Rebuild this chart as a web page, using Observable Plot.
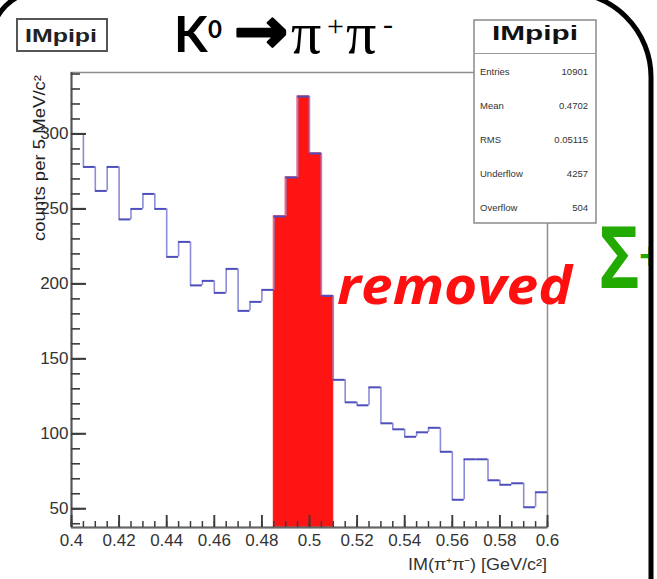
<!DOCTYPE html>
<html>
<head>
<meta charset="utf-8">
<script src="https://cdn.jsdelivr.net/npm/d3@7"></script>
<script src="https://cdn.jsdelivr.net/npm/@observablehq/plot@0.6"></script>
<style>
  html, body { margin: 0; padding: 0; background: #fff; }
  #chart { position: relative; width: 657px; height: 579px; overflow: hidden; }
  #chart svg { display: block; }
</style>
</head>
<body>
<div id="chart"></div>
<script>
// Invariant mass of pi+ pi- pairs, 5 MeV/c^2 bins (lower bin edges, GeV/c^2)
const binLow = [
  0.400, 0.405, 0.410, 0.415, 0.420, 0.425, 0.430, 0.435, 0.440, 0.445,
  0.450, 0.455, 0.460, 0.465, 0.470, 0.475, 0.480, 0.485, 0.490, 0.495,
  0.500, 0.505, 0.510, 0.515, 0.520, 0.525, 0.530, 0.535, 0.540, 0.545,
  0.550, 0.555, 0.560, 0.565, 0.570, 0.575, 0.580, 0.585, 0.590, 0.595
];
const binWidth = 0.005;
const counts = [
  300, 278, 262, 278, 243, 250, 260, 250, 218, 228,
  199, 202, 194, 210, 182, 188, 196, 245, 271, 325,
  287, 192, 136, 121, 119, 131, 107, 103, 98, 101,
  104, 88, 56, 83, 83, 69, 66, 67, 51, 61
];
// K0 window cut out of the sample
const removedRange = [0.485, 0.510];

const xDomain = [0.4, 0.6];
const yDomain = [37.5, 341];
const xTicks = [0.40, 0.42, 0.44, 0.46, 0.48, 0.50, 0.52, 0.54, 0.56, 0.58, 0.60];
const xTickLabels = ["0.4", "0.42", "0.44", "0.46", "0.48", "0.5", "0.52", "0.54", "0.56", "0.58", "0.6"];
const xMinorTicks = binLow.concat([0.6]);
const yTicks = [50, 100, 150, 200, 250, 300];
const yMinorTicks = [40, 50, 60, 70, 80, 90, 100, 110, 120, 130, 140, 150, 160, 170, 180, 190,
  200, 210, 220, 230, 240, 250, 260, 270, 280, 290, 300, 310, 320, 330, 340];

const histName = "IMpipi";
const statsNames = ["Entries", "Mean", "RMS", "Underflow", "Overflow"];
const statsValues = ["10901", "0.4702", "0.05115", "4257", "504"];

const xTitle = "IM(π⁺π⁻) [GeV/c²]";
const yTitle = "counts per 5 MeV/c²";

const bins = binLow.map((x0, i) => ({
  x0,
  x1: x0 + binWidth,
  count: counts[i],
  removed: x0 >= removedRange[0] - 1e-9 && x0 < removedRange[1] - 1e-9
}));
const steps = bins.slice(1).map((b, i) => ({x: b.x0, y1: bins[i].count, y2: b.count}));

const rootFont = "'Liberation Sans', Arial, sans-serif";

const W = 657, H = 579;
const M = {left: 71, right: 110, top: 72, bottom: 52};
// pixels per data unit, used to give the inward ticks a fixed pixel length
const kx = (W - M.left - M.right) / (xDomain[1] - xDomain[0]);
const ky = (H - M.top - M.bottom) / (yDomain[1] - yDomain[0]);
const tickColor = "#3c3c3c";
const yTickRules = (values, len, sw) =>
  Plot.ruleY(values, {y: d => d, x1: xDomain[0], x2: xDomain[0] + len / kx, stroke: tickColor, strokeWidth: sw});
const xTickRules = (values, len, sw) =>
  Plot.ruleX(values, {x: d => d, y1: yDomain[0], y2: yDomain[0] + len / ky, stroke: tickColor, strokeWidth: sw});

const plot = Plot.plot({
  width: W,
  height: H,
  marginLeft: M.left,
  marginRight: M.right,
  marginTop: M.top,
  marginBottom: M.bottom,
  style: {fontFamily: rootFont, background: "transparent", overflow: "hidden"},
  x: {domain: xDomain, label: null},
  y: {domain: yDomain, label: null},
  marks: [
    // removed K0 peak, filled down to the axis
    Plot.rectY(bins.filter(d => d.removed), {
      x1: "x0", x2: "x1", y1: yDomain[0], y2: "count",
      fill: "#ff1414", stroke: "#ff1414", strokeWidth: 1
    }),
    // histogram outline
    Plot.ruleX(steps, {x: "x", y1: "y1", y2: "y2", stroke: "#8c8cd8", strokeWidth: 1.6}),
    Plot.ruleY(bins, {x1: "x0", x2: "x1", y: "count", stroke: "#4e4ebd", strokeWidth: 2}),
    Plot.frame({stroke: "#8f8f8f", strokeWidth: 1.5}),
    Plot.ruleX([xDomain[0]], {stroke: "#555", strokeWidth: 2}),
    Plot.ruleY([yDomain[0]], {stroke: "#666", strokeWidth: 2}),
    // inward ticks
    xTickRules(xMinorTicks, 6, 1.5),
    xTickRules(xTicks, 12, 1.9),
    yTickRules(yMinorTicks, 9, 1.6),
    yTickRules(yTicks, 15, 2.1),
    // tick labels
    Plot.axisX(xTicks, {tickSize: 0, tickPadding: 6, tickFormat: (d, i) => xTickLabels[i], fontSize: 17, fill: "#333", label: null}),
    Plot.axisY(yTicks, {tickSize: 0, tickPadding: 3, fontSize: 17, fill: "#333", label: null})
  ]
});

document.getElementById("chart").appendChild(plot);

const svg = d3.select(plot);
const g = svg.append("g").attr("text-anchor", "start");

// axis titles
g.append("text")
  .attr("transform", "translate(45,75) rotate(-90)")
  .attr("text-anchor", "end")
  .attr("font-family", rootFont)
  .attr("font-size", 16)
  .attr("textLength", 166).attr("lengthAdjust", "spacingAndGlyphs")
  .attr("fill", "#222")
  .text(yTitle);
g.append("text")
  .attr("x", 408).attr("y", 570)
  .attr("font-family", rootFont)
  .attr("font-size", 16)
  .attr("textLength", 139).attr("lengthAdjust", "spacingAndGlyphs")
  .attr("fill", "#333")
  .text(xTitle);

// histogram name box, top left
g.append("rect")
  .attr("x", 17).attr("y", 19).attr("width", 90).attr("height", 32)
  .attr("fill", "#fff").attr("stroke", "#555").attr("stroke-width", 2);
g.append("text")
  .attr("x", 25).attr("y", 42)
  .attr("font-family", rootFont).attr("font-weight", "bold").attr("font-size", 19)
  .attr("textLength", 72).attr("lengthAdjust", "spacingAndGlyphs")
  .attr("fill", "#222")
  .text(histName);

// statistics box
const bx = 474, by = 20, bw = 122, bh = 203;
g.append("rect")
  .attr("x", bx).attr("y", by).attr("width", bw).attr("height", bh)
  .attr("fill", "#fff").attr("stroke", "#8a8a8a").attr("stroke-width", 1.5);
g.append("line")
  .attr("x1", bx).attr("x2", bx + bw).attr("y1", 53.5).attr("y2", 53.5)
  .attr("stroke", "#9a9a9a").attr("stroke-width", 1.2);
g.append("text")
  .attr("x", 492).attr("y", 40)
  .attr("font-family", rootFont).attr("font-weight", "bold").attr("font-size", 20)
  .attr("textLength", 86).attr("lengthAdjust", "spacingAndGlyphs")
  .attr("fill", "#111")
  .text(histName);
statsNames.forEach((name, i) => {
  const yy = 75 + i * 34;
  g.append("text")
    .attr("x", 480).attr("y", yy)
    .attr("font-family", rootFont).attr("font-size", 9.5).attr("fill", "#333")
    .text(name);
  g.append("text")
    .attr("x", 588).attr("y", yy)
    .attr("text-anchor", "end")
    .attr("font-family", rootFont).attr("font-size", 9.5).attr("fill", "#333")
    .text(statsValues[i]);
});

// decay title
const titleFont = "Lato, 'Open Sans', sans-serif";
const serif = "'Liberation Serif', 'DejaVu Serif', serif";
g.append("text").attr("x", 174).attr("y", 52)
  .attr("font-family", titleFont).attr("font-weight", "bold").attr("font-size", 49)
  .attr("fill", "#000").text("K");
g.append("text").attr("x", 208).attr("y", 38)
  .attr("font-family", titleFont).attr("font-weight", "bold").attr("font-size", 24)
  .attr("fill", "#000").text("0");
g.append("text").attr("x", 234).attr("y", 52)
  .attr("font-family", "'DejaVu Sans', sans-serif").attr("font-weight", "bold").attr("font-size", 62)
  .attr("textLength", 54).attr("lengthAdjust", "spacingAndGlyphs")
  .attr("stroke", "#000").attr("stroke-width", 2.5).attr("stroke-linejoin", "round")
  .attr("fill", "#000").text("→");
g.append("text").attr("x", 291).attr("y", 53)
  .attr("font-family", serif).attr("font-size", 60)
  .attr("fill", "#000").text("π");
g.append("text").attr("x", 327).attr("y", 36)
  .attr("font-family", serif).attr("font-size", 30)
  .attr("fill", "#000").text("+");
g.append("text").attr("x", 346).attr("y", 53)
  .attr("font-family", serif).attr("font-size", 60)
  .attr("fill", "#000").text("π");
g.append("text").attr("x", 383).attr("y", 34)
  .attr("font-family", serif).attr("font-size", 30)
  .attr("fill", "#000").text("-");

// label on the cut window
g.append("text").attr("x", 337).attr("y", 304)
  .attr("font-family", "'Open Sans', Lato, sans-serif").attr("font-weight", "bold")
  .attr("font-style", "italic").attr("font-size", 52)
  .attr("textLength", 235).attr("lengthAdjust", "spacingAndGlyphs")
  .attr("fill", "#ff1010").text("removed");

// neighbouring panel, partly hidden behind the border
g.append("text").attr("transform", "translate(599,288) scale(0.8,1)")
  .attr("font-family", "'Open Sans', 'Noto Sans', sans-serif").attr("font-weight", "bold")
  .attr("font-size", 86).attr("fill", "#22aa00").text("Σ");
g.append("text").attr("x", 639).attr("y", 270)
  .attr("font-family", "'Open Sans', 'Noto Sans', sans-serif").attr("font-weight", "bold")
  .attr("font-size", 40).attr("fill", "#22aa00").text("+");
g.append("rect").attr("x", 653).attr("y", 0).attr("width", 10).attr("height", 579).attr("fill", "#fff");

// rounded panel border
g.append("path")
  .attr("d", "M-8,640 L-8,39 A47,47 0 0 1 39,-8 L566,-8 A85,85 0 0 1 651,77 L651,640")
  .attr("fill", "none").attr("stroke", "#000").attr("stroke-width", 5);
</script>
</body>
</html>
